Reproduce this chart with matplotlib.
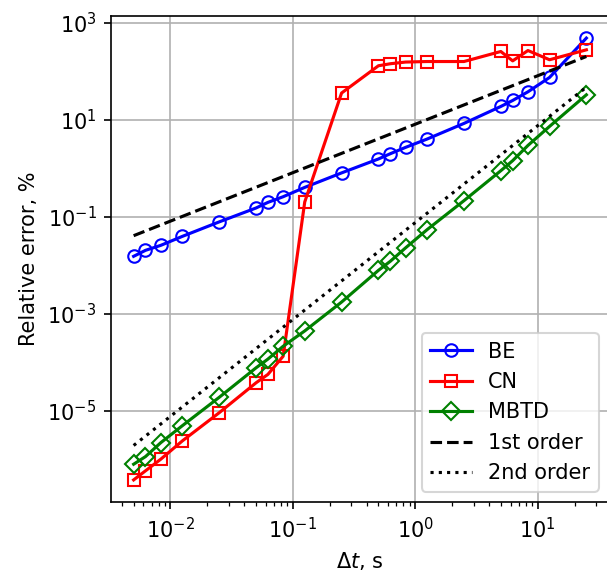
import matplotlib
matplotlib.use("Agg")
import matplotlib.pyplot as plt

# time steps, s
dt = [0.005, 0.00625, 0.00833, 0.0125, 0.025, 0.05, 0.0625, 0.0833, 0.125, 0.25,
      0.5, 0.625, 0.833, 1.25, 2.5, 5, 6.25, 8.33, 12.5, 25]

# relative errors, %
err_be = [0.0152, 0.0202, 0.0256, 0.0392, 0.078, 0.151, 0.197, 0.258, 0.402, 0.80,
          1.55, 1.99, 2.69, 4.0, 8.4, 18.8, 25.0, 37.7, 74.5, 484]
err_cn = [3.7e-7, 5.7e-7, 9.9e-7, 2.36e-6, 9.0e-6, 3.73e-5, 5.56e-5, 1.32e-4, 0.201, 35.6,
          130, 143, 155, 159, 159, 256, 164, 268, 173, 277]
err_mbtd = [7.8e-7, 1.12e-6, 2.17e-6, 4.86e-6, 1.87e-5, 7.6e-5, 1.15e-4, 2.12e-4, 4.39e-4, 1.73e-3,
            7.8e-3, 0.012, 0.0227, 0.054, 0.214, 0.888, 1.43, 2.95, 7.28, 32.7]

# reference slopes (end points)
ref_dt = [0.005, 25]
ref_first = [0.0405, 202]
ref_second = [1.9e-6, 47]

fig = plt.figure(figsize=(607 / 150, 572 / 150), dpi=150)
ax = fig.add_axes([111 / 607, 70 / 572, 498 / 607, 486 / 572])

ax.loglog(dt, err_be, 'b-o', mfc='none', label='BE')
ax.loglog(dt, err_cn, 'r-s', mfc='none', label='CN')
ax.loglog(dt, err_mbtd, 'g-D', mfc='none', label='MBTD')
ax.loglog(ref_dt, ref_first, 'k--', label='1st order')
ax.loglog(ref_dt, ref_second, 'k:', label='2nd order')

ax.set_xlabel(r'$\Delta t$, s')
ax.set_ylabel('Relative error, %')
ax.grid(True)
ax.legend(loc='lower right')

fig.savefig('out.png', dpi=150)
